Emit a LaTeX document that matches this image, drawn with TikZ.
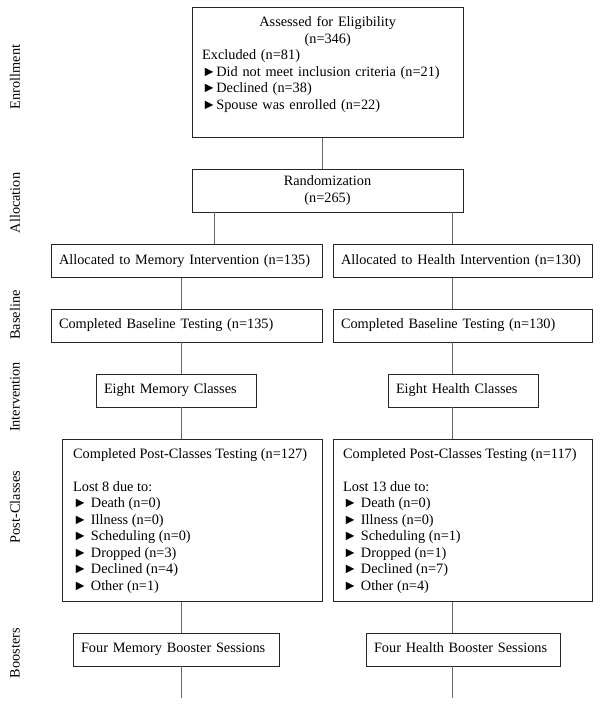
\documentclass[tikz,border=0pt]{standalone}
\usepackage{fontspec}
\setmainfont{Liberation Serif}
\usepackage{tikz}
\usetikzlibrary{positioning}

\begin{document}
\begin{tikzpicture}[x=1pt,y=-1pt,
    every node/.style={font=\fontsize{14.3}{16.5}\selectfont},
    box/.style={draw=black!85, line width=.8pt, inner sep=0pt},
    onebox/.style={box, align=left, inner xsep=8pt, minimum height=33pt, execute at begin node=\strut},
    txt/.style={inner sep=0pt, align=left},
    phase/.style={rotate=90, inner sep=0pt},
    link/.style={draw=black!60, line width=.9pt}]
    \useasboundingbox (0,0) rectangle (601,706);
    % columns of the connectors
    \coordinate (col-c) at (322,0);
    \coordinate (col-r) at (214,0);
    \coordinate (col-m) at (181,0);
    \coordinate (col-h) at (452,0);

    % enrollment
    \node[box, minimum width=271pt, minimum height=130pt, anchor=north west] (assess) at (192,7) {};
    \node[txt, text width=251pt, anchor=north west] (assess-t) at (202,16.5)
        {\centering Assessed for Eligibility\\(n=346)\par
         \raggedright Excluded (n=81)\\►Did not meet inclusion criteria (n=21)\\►Declined (n=38)\\►Spouse was enrolled (n=22)};

    % allocation
    \node[box, align=center, minimum width=271pt, minimum height=43pt] (rand) at (327.5,190.5) {Randomization\\(n=265)};
    \node[onebox, text width=255pt] (alloc-m) at (186.5,261) {Allocated to Memory Intervention (n=135)};
    \node[onebox, text width=243pt] (alloc-h) at (462.5,261) {Allocated to Health Intervention (n=130)};

    % baseline
    \node[onebox, text width=255pt] (base-m) at (186.5,325.5) {Completed Baseline Testing (n=135)};
    \node[onebox, text width=243pt] (base-h) at (462.5,325.5) {Completed Baseline Testing (n=130)};

    % intervention
    \node[onebox, text width=144pt] (class-m) at (176,390.5) {Eight Memory Classes};
    \node[onebox, text width=134pt] (class-h) at (463,390.5) {Eight Health Classes};

    % post-classes
    \node[box, minimum width=260pt, minimum height=162pt, anchor=north west] (post-m) at (62,439) {};
    \node[txt, anchor=north west] (post-m-t) at (73,448)
        {Completed Post-Classes Testing (n=127)\\[16.5pt]Lost 8 due to:\\► Death (n=0)\\► Illness (n=0)\\► Scheduling (n=0)\\► Dropped (n=3)\\► Declined (n=4)\\► Other (n=1)};
    \node[box, minimum width=259pt, minimum height=162pt, anchor=north west] (post-h) at (333,439) {};
    \node[txt, anchor=north west] (post-h-t) at (343,448)
        {Completed Post-Classes Testing (n=117)\\[16.5pt]Lost 13 due to:\\► Death (n=0)\\► Illness (n=0)\\► Scheduling (n=1)\\► Dropped (n=1)\\► Declined (n=7)\\► Other (n=4)};

    % boosters
    \node[onebox, text width=190pt] (boost-m) at (176,649.5) {Four Memory Booster Sessions};
    \node[onebox, text width=178pt] (boost-h) at (463,649.5) {Four Health Booster Sessions};
    \coordinate (end-m) at (181,698);
    \coordinate (end-h) at (452,698);

    % phases
    \node[phase] (ph-enrol) at (15,77) {Enrollment};
    \node[phase] (ph-alloc) at (15,203) {Allocation};
    \node[phase] (ph-base) at (15,315) {Baseline};
    \node[phase] (ph-inter) at (15,397) {Intervention};
    \node[phase] (ph-post) at (15,507) {Post-Classes};
    \node[phase] (ph-boost) at (15,653) {Boosters};

    \draw[link] (assess.south -| col-c) -- (rand.north -| col-c);
    \draw[link] (rand.south -| col-r) -- (alloc-m.north -| col-r);
    \draw[link] (rand.south -| col-h) -- (alloc-h.north -| col-h);
    \foreach \c in {m,h}{
        \draw[link] (alloc-\c.south -| col-\c) -- (base-\c.north -| col-\c);
        \draw[link] (base-\c.south -| col-\c) -- (class-\c.north -| col-\c);
        \draw[link] (class-\c.south -| col-\c) -- (post-\c.north -| col-\c);
        \draw[link] (post-\c.south -| col-\c) -- (boost-\c.north -| col-\c);
        \draw[link] (boost-\c.south -| col-\c) -- (end-\c);
    }
\end{tikzpicture}
\end{document}
